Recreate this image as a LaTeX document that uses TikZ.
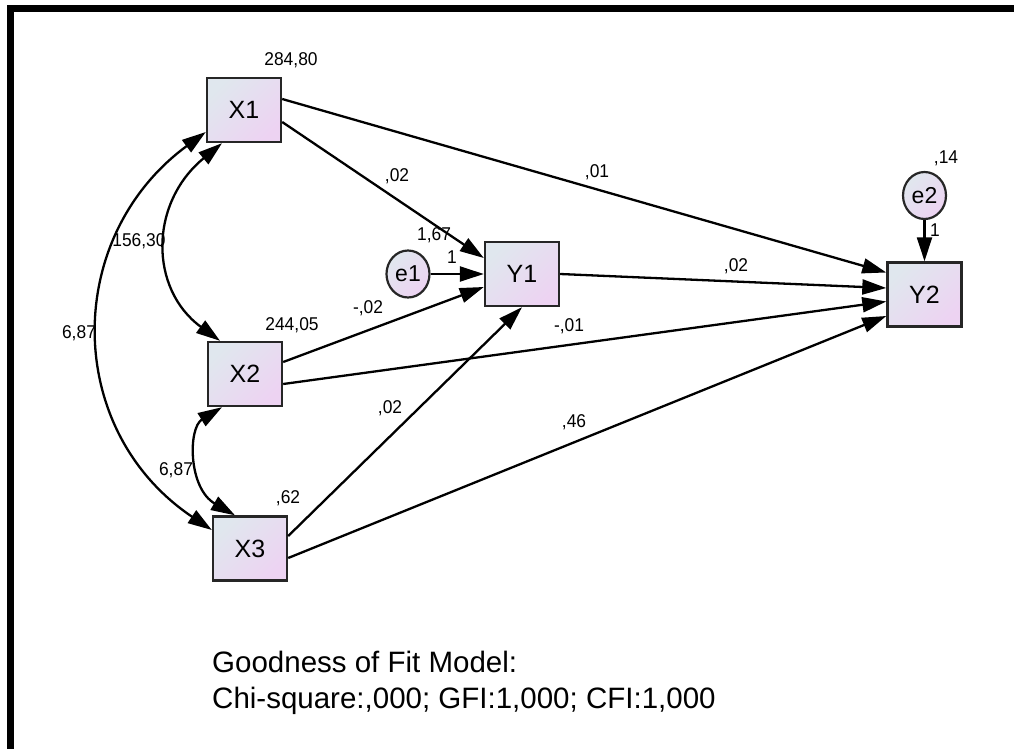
\documentclass[tikz,border=0pt]{standalone}
\usepackage{fontspec}
\usetikzlibrary{arrows.meta,shapes.geometric}
\newfontfamily\labfont{Liberation Sans}
\newfontfamily\labfontn[FakeStretch=0.94]{Liberation Sans}
\definecolor{shA}{HTML}{E0E7EE}
\definecolor{shB}{HTML}{EDD3F2}
\definecolor{boxline}{HTML}{262626}
\tikzset{
  varbox/.style={draw=boxline, line width=2.4pt, top color=shA, bottom color=shB, shading angle=45,
    minimum width=74pt, minimum height=64pt, inner sep=0pt, font=\labfont\fontsize{25}{27}\selectfont},
  errnode/.style={ellipse, draw=boxline, line width=2.2pt, top color=shA, bottom color=shB, shading angle=45,
    minimum width=43pt, minimum height=47pt, inner sep=0pt, font=\labfont\fontsize{23}{25}\selectfont},
  path/.style={line width=2.3pt, -{Triangle[length=24pt,width=15pt]}},
  cov/.style={line width=2.3pt, {Triangle[length=24pt,width=15pt]}-{Triangle[length=24pt,width=15pt]}},
  lab/.style={inner sep=0pt, font=\labfontn\fontsize{18.5}{20}\selectfont},
  note/.style={inner sep=0pt, anchor=base west, font=\labfont\fontsize{29.5}{31}\selectfont}
}
\begin{document}
\begin{tikzpicture}[x=1pt,y=-1pt]
\useasboundingbox (0,0) rectangle (1014,749);
\draw[line width=6.4pt, line join=miter] (10.3,749) -- (10.3,8.4) -- (1014,8.4);

% nodes
\node[varbox] (X1) at (244,110) {X1};
\node[varbox] (X2) at (245,374) {X2};
\node[varbox] (X3) at (250,548.5) {X3};
\node[varbox] (Y1) at (522,274) {Y1};
\node[varbox] (Y2) at (924.5,294.5) {Y2};
\node[errnode] (e1) at (408,274) {e1};
\node[errnode] (e2) at (924.5,195.5) {e2};

% regression paths
\draw[path] ([yshift=-12pt]X1.east) -- ([yshift=16pt]Y1.west);
\draw[path] ([yshift=11pt]X1.east) -- ([yshift=22pt]Y2.west);
\draw[path] (e1.east) -- (Y1.west);
\draw[path] ([yshift=12pt]X2.east) -- ([yshift=-13pt]Y1.west);
\draw[path] (Y1.east) -- ([yshift=6.5pt]Y2.west);
\draw[path] ([yshift=-10pt]X2.east) -- ([yshift=-7pt]Y2.west);
\draw[path] ([yshift=12.5pt]X3.east) -- (Y1.south);
\draw[path] ([yshift=-9.5pt]X3.east) -- ([yshift=-21.5pt]Y2.west);
\draw[path] (e2.south) -- (Y2.north);

% covariances
\draw[cov] ([xshift=-22pt]X1.south) .. controls (149,203) and (149,289) .. ([xshift=-25pt]X2.north);
\draw[cov] ([yshift=-22pt]X1.west) .. controls (63,237) and (63,430) .. ([yshift=18.5pt]X3.west);
\draw[cov] ([xshift=-23pt]X2.south) .. controls (188,428) and (188,488) .. ([xshift=-15pt]X3.north);

% labels
\node[lab] (l1) at (291,60) {284,80};
\node[lab] (l2) at (139,241) {156,30};
\node[lab] (l3) at (79,333) {6,87};
\node[lab] (l4) at (176,470) {6,87};
\node[lab] (l5) at (292,325) {244,05};
\node[lab] (l6) at (288,498) {,62};
\node[lab] (l7) at (397,176) {,02};
\node[lab] (l8) at (597,172) {,01};
\node[lab] (l9) at (434,235) {1,67};
\node[lab] (l10) at (452,257) {1};
\node[lab] (l11) at (368,308) {-,02};
\node[lab] (l12) at (569,326) {-,01};
\node[lab] (l13) at (736,266) {,02};
\node[lab] (l14) at (390,408) {,02};
\node[lab] (l15) at (574,422) {,46};
\node[lab] (l16) at (946,158) {,14};
\node[lab] (l17) at (935,230) {1};

\node[note] (n1) at (212,672) {Goodness of Fit Model:};
\node[note] (n2) at (212,708) {Chi-square:,000; GFI:1,000; CFI:1,000};
\end{tikzpicture}
\end{document}
